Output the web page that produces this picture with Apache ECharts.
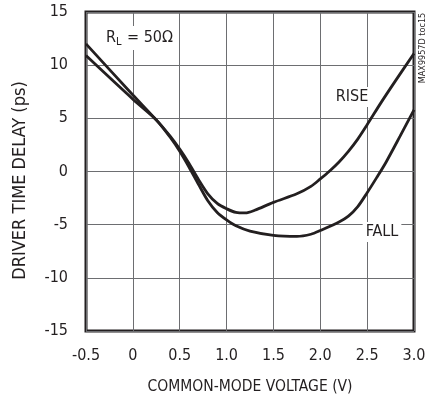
<!DOCTYPE html>
<html>
<head>
<meta charset="utf-8">
<script src="https://cdn.jsdelivr.net/npm/echarts@6/dist/echarts.min.js"></script>
<style>
html,body{margin:0;padding:0;background:#fff;}
#c{width:435px;height:400px;}
</style>
</head>
<body>
<div id="c"></div>
<script>
var xTicks = [-0.5, 0, 0.5, 1.0, 1.5, 2.0, 2.5, 3.0];
var yTicks = [-15, -10, -5, 0, 5, 10, 15];
var riseX = [-0.5, 0, 0.25, 0.4, 0.5, 0.6, 0.7, 0.8, 0.9, 1.0, 1.1, 1.2, 1.3, 1.5, 1.75, 1.9, 2.0, 2.1, 2.2, 2.3, 2.4, 2.5, 2.65, 2.8, 3.0];
var riseY = [12.0, 7.2, 4.85, 3.3, 2.1, 0.75, -0.75, -2.1, -3.0, -3.5, -3.85, -3.9, -3.65, -2.9, -2.1, -1.4, -0.7, 0.05, 0.9, 1.9, 3.05, 4.4, 6.5, 8.5, 11.1];
var fallX = [-0.5, 0, 0.25, 0.4, 0.5, 0.6, 0.7, 0.8, 0.9, 1.0, 1.1, 1.25, 1.5, 1.75, 1.9, 2.0, 2.2, 2.3, 2.4, 2.5, 2.6, 2.7, 2.85, 3.0];
var fallY = [10.9, 6.8, 4.85, 3.2, 1.9, 0.4, -1.2, -2.75, -3.85, -4.55, -5.1, -5.6, -6.0, -6.1, -5.9, -5.55, -4.75, -4.2, -3.3, -2.0, -0.6, 0.85, 3.3, 5.8];

function pairs(xs, ys){ return xs.map(function(x,i){return [x, ys[i]];}); }

var FONT = "'Liberation Sans Narrow', 'DejaVu Sans Condensed', sans-serif";
var INK = '#231f20';
var chart = echarts.init(document.getElementById('c'), null, {renderer:'canvas'});
chart.setOption({
  animation:false,
  backgroundColor:'#fff',
  grid:{left:86, right:21, top:12, bottom:60, show:true, borderWidth:3, borderColor:INK, backgroundColor:'transparent'},
  xAxis:{
    type:'value', min:-0.5, max:3.0, interval:0.5,
    name:'COMMON-MODE VOLTAGE (V)', nameLocation:'middle', nameGap:48,
    nameTextStyle:{fontFamily:FONT, fontSize:15.5, color:INK},
    axisLine:{show:false}, axisTick:{show:false},
    axisLabel:{fontFamily:FONT, fontSize:16, color:INK, margin:17,
      formatter:function(v){ var s = xTicks.find(function(t){return Math.abs(t-v)<1e-9;}); if(s===undefined) return ''; return (s===0)?'0':(s===-0.5?'-0.5':s.toFixed(1)); }},
    splitLine:{show:true, lineStyle:{color:'#6d6e71', width:1}}
  },
  yAxis:{
    type:'value', min:-15, max:15, interval:5,
    name:'DRIVER TIME DELAY (ps)', nameLocation:'middle', nameGap:57,
    nameTextStyle:{fontFamily:FONT, fontSize:18, color:INK, padding:[0,18,0,0]},
    axisLine:{show:false}, axisTick:{show:false},
    axisLabel:{fontFamily:FONT, fontSize:16, color:INK, margin:18},
    splitLine:{show:true, lineStyle:{color:'#6d6e71', width:1}}
  },
  series:[
    {type:'line', name:'RISE', data:pairs(riseX, riseY), smooth:0.3, symbol:'none', lineStyle:{color:INK, width:2.8}, z:3},
    {type:'line', name:'FALL', data:pairs(fallX, fallY), smooth:0.3, symbol:'none', lineStyle:{color:INK, width:2.8}, z:3}
  ],
  graphic:[
    {type:'text', left:103, top:26, z:10, style:{text:'{a|R}{s|L}{a| = 50Ω}', backgroundColor:'#fff', padding:[2,3,2,3],
      rich:{a:{fontFamily:FONT, fontSize:16, fill:INK}, s:{fontFamily:FONT, fontSize:11, fill:INK, padding:[9,1,0,0]}}}},
    {type:'text', x:352, y:97, z:10, style:{text:'RISE', fontFamily:FONT, fontSize:16, fill:INK, align:'center', verticalAlign:'middle', backgroundColor:'#fff', padding:[2,2,2,2]}},
    {type:'text', x:382, y:232, z:10, style:{text:'FALL', fontFamily:FONT, fontSize:16, fill:INK, align:'center', verticalAlign:'middle', backgroundColor:'#fff', padding:[2,3,2,3]}},
    {type:'text', x:423, y:48, rotation:Math.PI/2, z:10, style:{text:'MAX9957D toc15', fontFamily:FONT, fontSize:9, fill:INK, align:'center', verticalAlign:'middle'}}
  ]
});
</script>
</body>
</html>
